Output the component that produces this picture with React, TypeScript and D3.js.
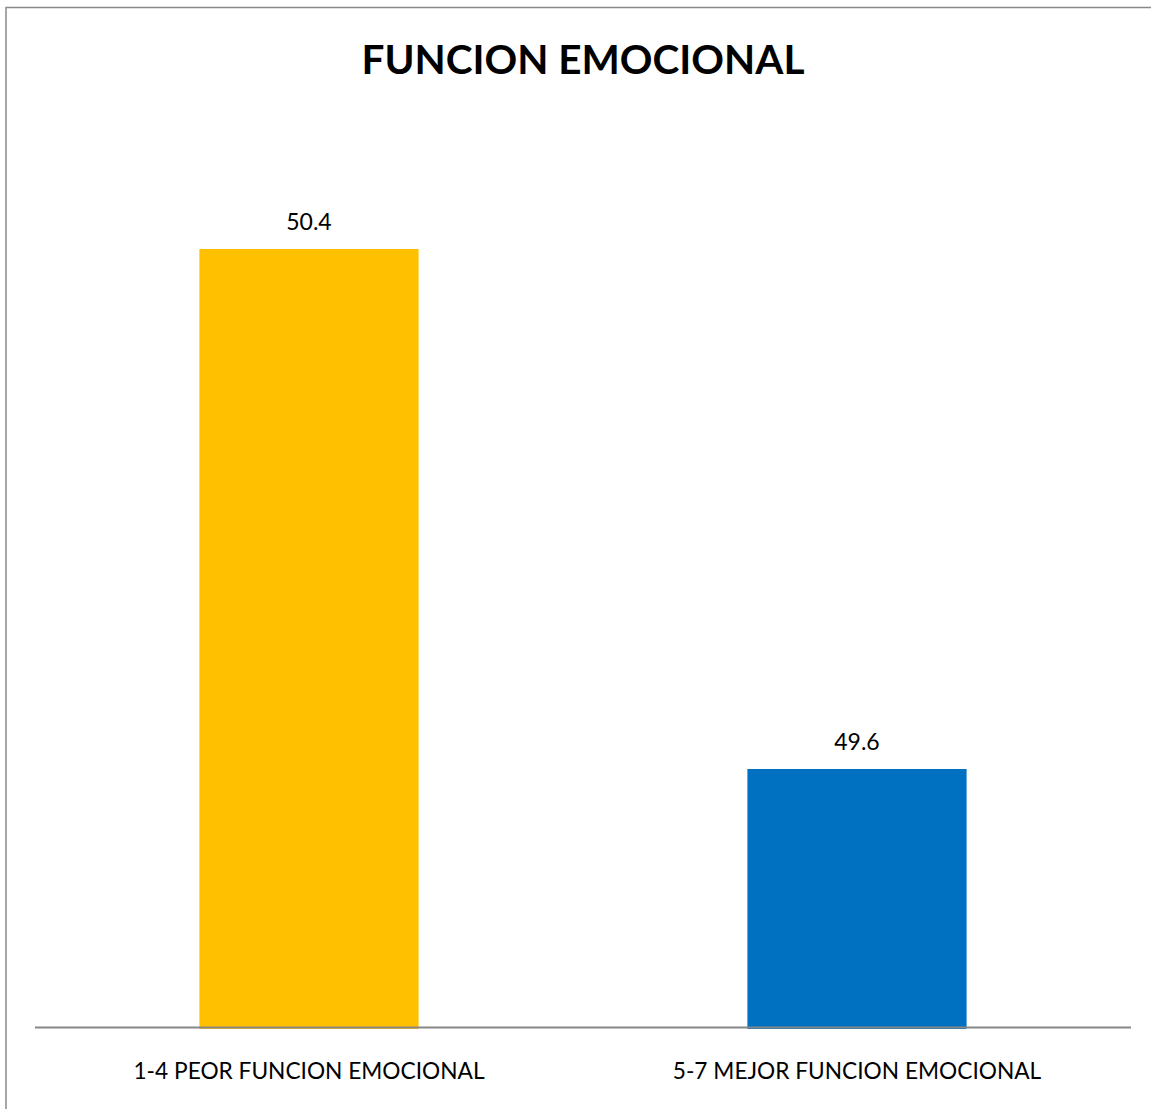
import React from "react";
import * as d3 from "d3";

const categories = ["1-4 PEOR FUNCION EMOCIONAL", "5-7 MEJOR FUNCION EMOCIONAL"];
const values = [50.4, 49.6];
const colors = ["#FFC000", "#0070C0"];
const yDomain = [49.2, 50.6];
const title = "FUNCION EMOCIONAL";

const W = 1151;
const H = 1109;
const plot = { left: 35, right: 1131, top: 119, bottom: 1029 };

export default function App() {
  const x = d3
    .scaleBand<string>()
    .domain(categories)
    .range([plot.left, plot.right])
    .paddingInner(0.6)
    .paddingOuter(0.3);
  const y = d3.scaleLinear().domain(yDomain).range([plot.bottom, plot.top]);
  const font = "Lato, 'Open Sans', sans-serif";

  return (
    <svg
      width={W}
      height={H}
      style={{ position: "absolute", left: 0, top: 0, display: "block", background: "#fff" }}
    >
      <rect x={6} y={7.5} width={1400} height={1400} fill="#fff" stroke="#8a8a8a" strokeWidth={1.5} />
      <text x={583} y={74} textAnchor="middle" fontFamily={font} fontWeight={700} fontSize={40.5} fill="#000">
        {title}
      </text>
      {categories.map((c, i) => {
        const bx = x(c)!;
        const bw = x.bandwidth();
        const top = y(values[i]);
        return (
          <g key={c}>
            <rect x={bx} y={top} width={bw} height={plot.bottom - top} fill={colors[i]} />
            <text
              x={bx + bw / 2}
              y={top - 19}
              textAnchor="middle"
              fontFamily={font}
              fontSize={23}
              fill="#000"
            >
              {values[i].toFixed(1)}
            </text>
            <text
              x={bx + bw / 2}
              y={1079}
              textAnchor="middle"
              fontFamily={font}
              fontSize={22.7}
              fill="#000"
            >
              {c}
            </text>
          </g>
        );
      })}
      <line x1={plot.left} x2={plot.right} y1={1027.5} y2={1027.5} stroke="#878787" strokeWidth={2.2} />
    </svg>
  );
}
